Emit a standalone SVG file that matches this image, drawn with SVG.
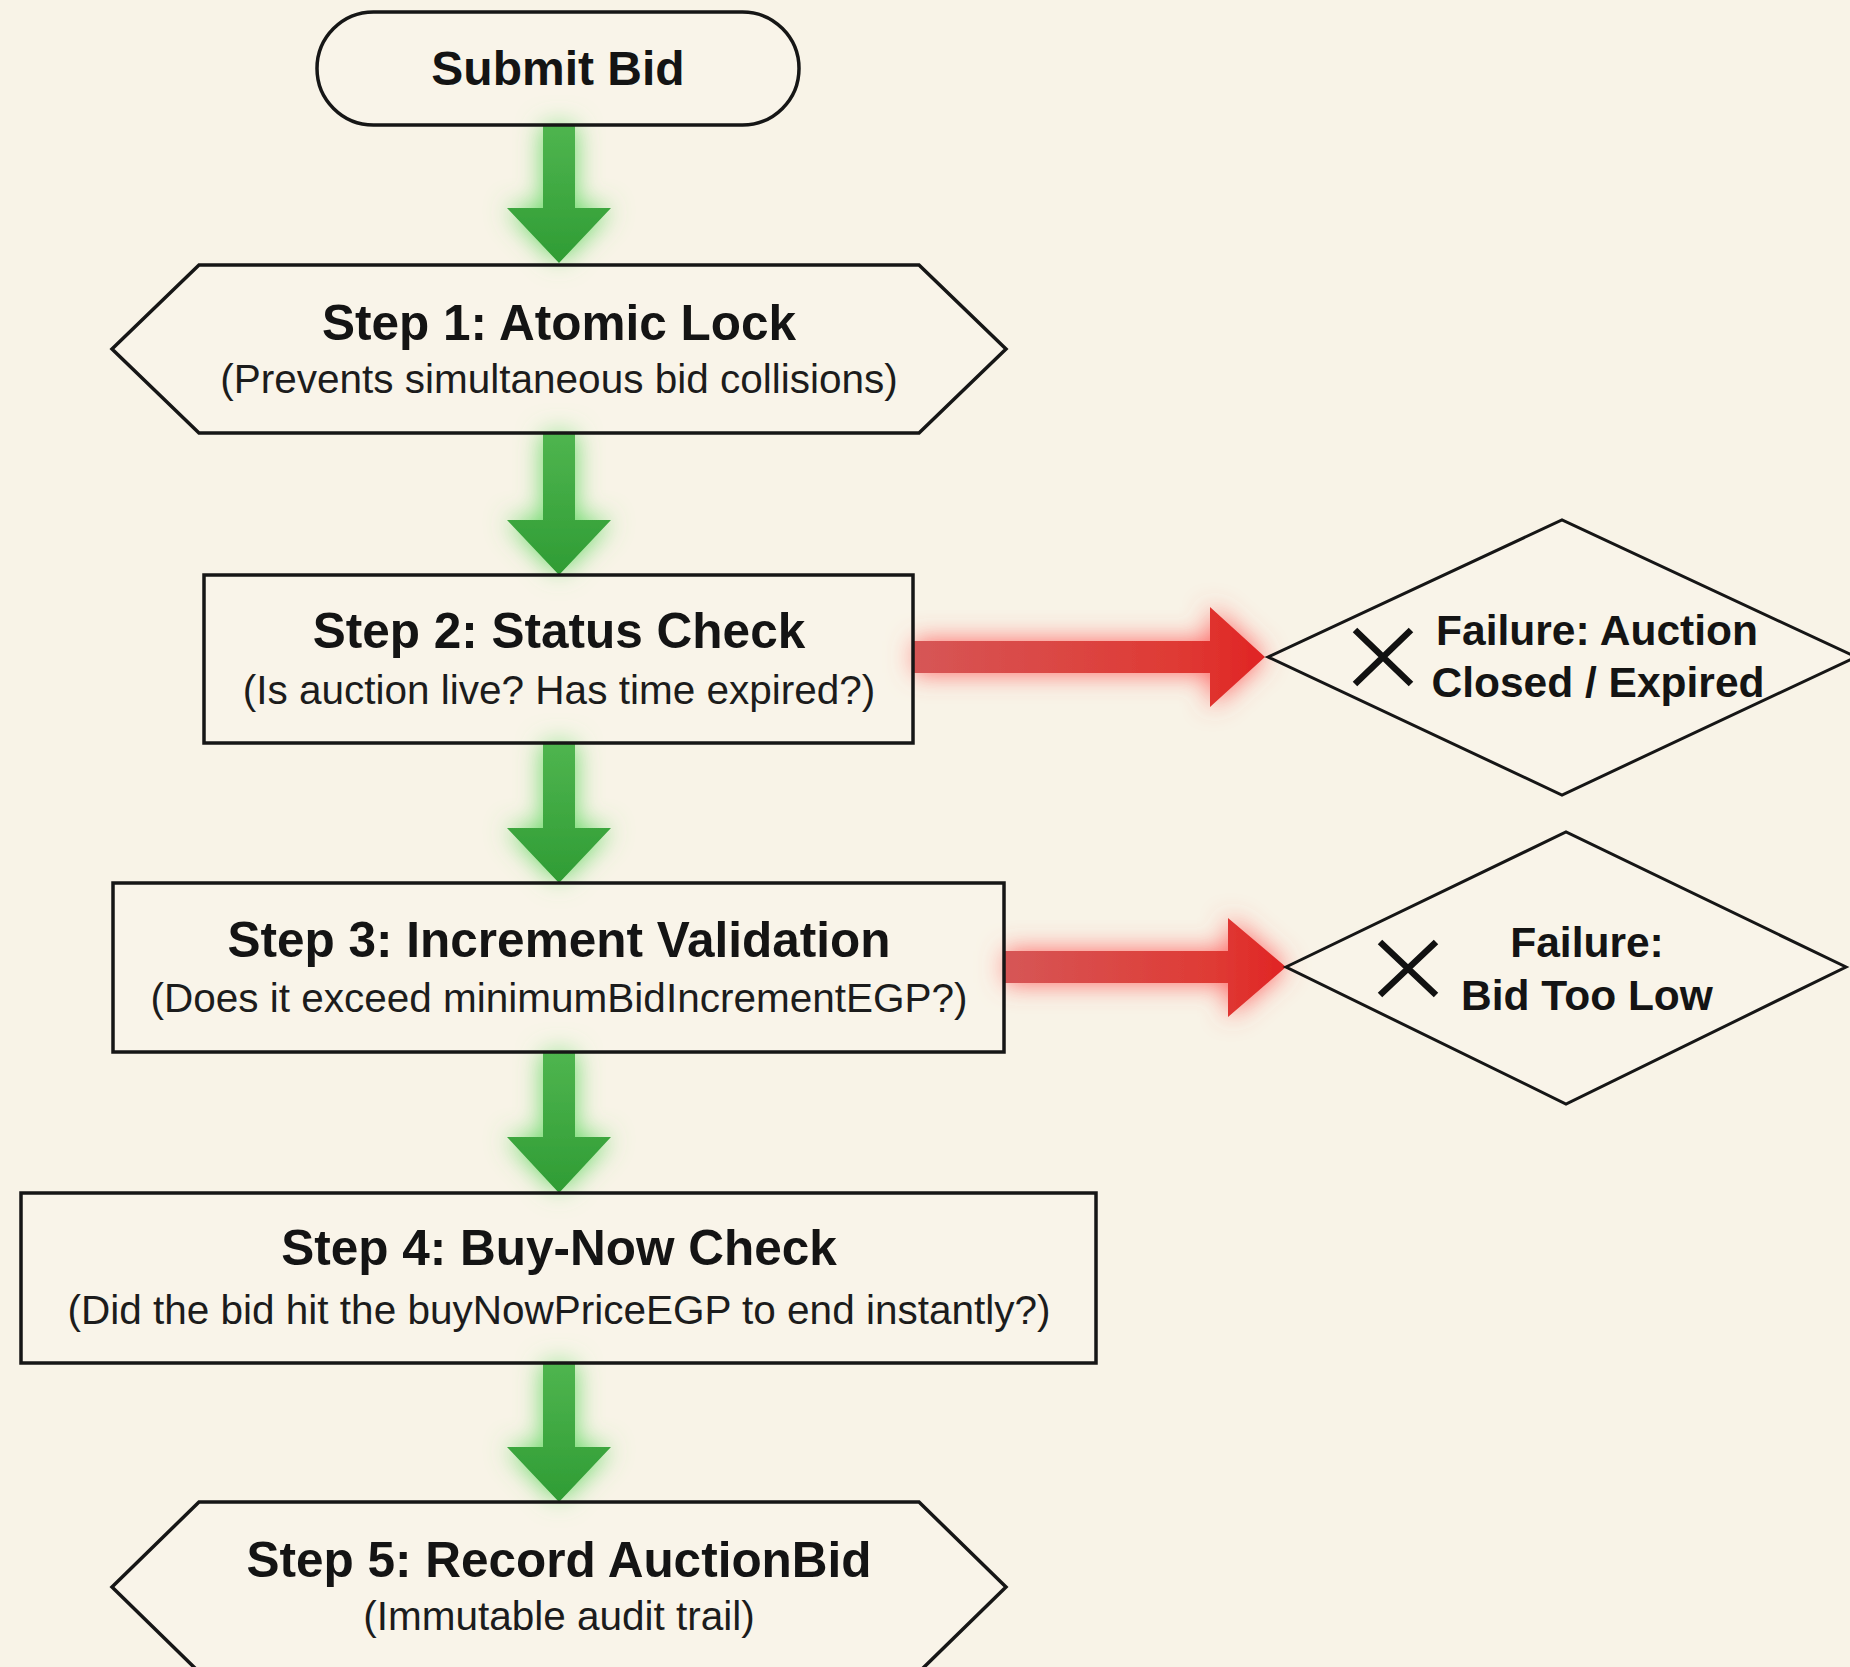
<svg xmlns="http://www.w3.org/2000/svg" width="1850" height="1667" viewBox="0 0 1850 1667">
<defs>
<style>
.box{fill:#fbf8ef;fill-opacity:0.3;stroke:#161616;stroke-width:3.5}
.fail{fill:#fbf8ef;fill-opacity:0.3;stroke:#161616;stroke-width:3}
.t{font-family:"Liberation Sans",Arial,sans-serif;font-weight:700;font-size:49.5px;fill:#141414;text-anchor:middle}
.s{font-family:"Liberation Sans",Arial,sans-serif;font-size:40.5px;fill:#1c1c1c;text-anchor:middle}
.f{font-family:"Liberation Sans",Arial,sans-serif;font-weight:700;font-size:42.5px;fill:#141414;text-anchor:middle}
.x{stroke:#111;stroke-width:6.5;fill:none}
.g{fill:url(#gg);filter:url(#gglow)}
.r{filter:url(#rglow)}
</style>
<linearGradient id="gg" x1="0" y1="0" x2="0" y2="1">
<stop offset="0" stop-color="#4fb54f"/>
<stop offset="1" stop-color="#2f9c34"/>
</linearGradient>
<linearGradient id="rg" x1="0" y1="0" x2="1" y2="0">
<stop offset="0" stop-color="#d65656"/>
<stop offset="0.75" stop-color="#df3a34"/>
<stop offset="1" stop-color="#e02424"/>
</linearGradient>
<filter id="gglow" x="-80%" y="-30%" width="260%" height="160%">
<feGaussianBlur in="SourceAlpha" stdDeviation="13" result="b"/>
<feFlood flood-color="#5fd85f" flood-opacity="0.95"/>
<feComposite in2="b" operator="in"/>
<feMerge><feMergeNode/><feMergeNode in="SourceGraphic"/></feMerge>
</filter>
<filter id="rglow" x="-25%" y="-80%" width="150%" height="260%">
<feGaussianBlur in="SourceAlpha" stdDeviation="13" result="b"/>
<feFlood flood-color="#ff5555" flood-opacity="0.9"/>
<feComposite in2="b" operator="in"/>
<feMerge><feMergeNode/><feMergeNode in="SourceGraphic"/></feMerge>
</filter>
</defs>
<rect width="1850" height="1667" fill="#f8f3e7"/>

<g id="connectors">
<polygon class="g" points="543,125 575,125 575,208 611,208 559,263 507,208 543,208"/>
<polygon class="g" points="543,433 575,433 575,520 611,520 559,575 507,520 543,520"/>
<polygon class="g" points="543,743 575,743 575,828 611,828 559,883 507,828 543,828"/>
<polygon class="g" points="543,1052 575,1052 575,1137 611,1137 559,1193 507,1137 543,1137"/>
<polygon class="g" points="543,1363 575,1363 575,1447 611,1447 559,1502 507,1447 543,1447"/>
<polygon class="r" fill="url(#rg)" points="913,641 1210,641 1210,607 1265,657 1210,707 1210,673 913,673"/>
<polygon class="r" fill="url(#rg)" points="1004,951 1228,951 1228,918 1286,967 1228,1017 1228,983 1004,983"/>
</g>

<g id="submit-bid">
<rect class="box" x="317" y="12" width="482" height="113" rx="56.5"/>
<text class="t" x="558" y="85" style="font-size:48px">Submit Bid</text>
</g>

<g id="step1">
<polygon class="box" points="112,349 199,265 919,265 1006,349 919,433 199,433"/>
<text class="t" x="559" y="340">Step 1: Atomic Lock</text>
<text class="s" x="559" y="393">(Prevents simultaneous bid collisions)</text>
</g>

<g id="step2">
<rect class="box" x="204" y="575" width="709" height="168"/>
<text class="t" x="559" y="648">Step 2: Status Check</text>
<text class="s" x="559" y="704">(Is auction live? Has time expired?)</text>
</g>

<g id="fail-closed">
<polygon class="fail" points="1268,657 1562,520 1856,657 1562,795"/>
<path class="x" d="M1355,630 L1411,684 M1411,630 L1355,684"/>
<text class="f" x="1597" y="645">Failure: Auction</text>
<text class="f" x="1598" y="697">Closed / Expired</text>
</g>

<g id="step3">
<rect class="box" x="113" y="883" width="891" height="169"/>
<text class="t" x="559" y="957">Step 3: Increment Validation</text>
<text class="s" x="559" y="1012">(Does it exceed minimumBidIncrementEGP?)</text>
</g>

<g id="fail-low">
<polygon class="fail" points="1286,967 1566,832 1846,967 1566,1104"/>
<path class="x" d="M1380,942 L1436,995 M1436,942 L1380,995"/>
<text class="f" x="1587" y="957">Failure:</text>
<text class="f" x="1587" y="1010">Bid Too Low</text>
</g>

<g id="step4">
<rect class="box" x="21" y="1193" width="1075" height="170"/>
<text class="t" x="559" y="1265">Step 4: Buy-Now Check</text>
<text class="s" x="559" y="1324">(Did the bid hit the buyNowPriceEGP to end instantly?)</text>
</g>

<g id="step5">
<polygon class="box" points="112,1587 199,1502 919,1502 1006,1587 919,1672 199,1672"/>
<text class="t" x="559" y="1577">Step 5: Record AuctionBid</text>
<text class="s" x="559" y="1630">(Immutable audit trail)</text>
</g>
</svg>
